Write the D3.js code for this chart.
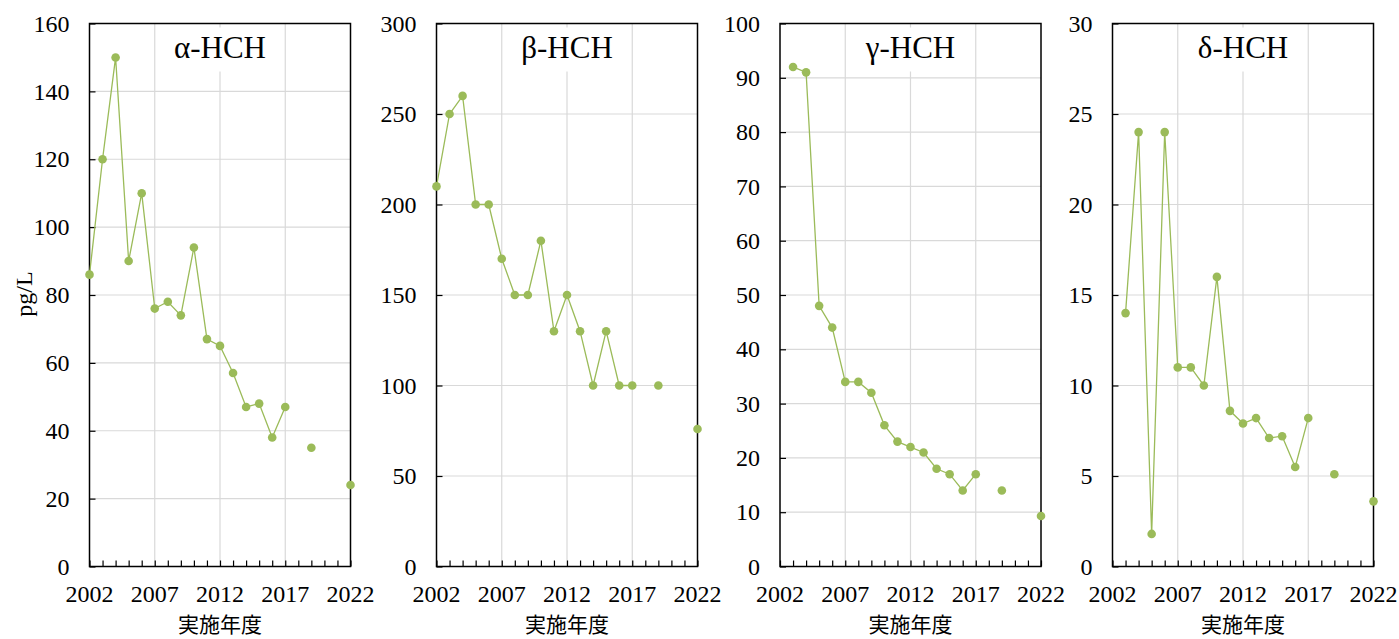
<!DOCTYPE html>
<html>
<head>
<meta charset="utf-8">
<script src="https://cdn.jsdelivr.net/npm/d3@7"></script>
<style>
  body { margin: 0; background: #fff; }
  text { font-family: "Liberation Serif", "Times New Roman", serif; fill: #000; }
  .jp { font-family: "Noto Sans CJK JP", sans-serif; }
</style>
</head>
<body>
<svg id="chart"></svg>
<script>
// survey years (2018, 2020, 2021 not measured)
const years = d3.range(2002, 2023);
const yearTicks = [2002, 2007, 2012, 2017, 2022];

const alphaHCH = [86, 120, 150, 90, 110, 76, 78, 74, 94, 67, 65, 57, 47, 48, 38, 47, null, 35, null, null, 24];
const betaHCH  = [210, 250, 260, 200, 200, 170, 150, 150, 180, 130, 150, 130, 100, 130, 100, 100, null, 100, null, null, 76];
const gammaHCH = [null, 92, 91, 48, 44, 34, 34, 32, 26, 23, 22, 21, 18, 17, 14, 17, null, 14, null, null, 9.3];
const deltaHCH = [null, 14, 24, 1.8, 24, 11, 11, 10, 16, 8.6, 7.9, 8.2, 7.1, 7.2, 5.5, 8.2, null, 5.1, null, null, 3.6];

const titles = ["α-HCH", "β-HCH", "γ-HCH", "δ-HCH"];
const yMax = [160, 300, 100, 30];
const yStep = [20, 50, 10, 5];

const GREEN = "#9bbb59";
const W = 1399, H = 639;

class Panel {
    constructor(g, left, top, width, height) {
        this.g = g.append("g").attr("transform", `translate(${left}, ${top})`);
        this.width = width;
        this.height = height;
    }

    draw(title, values, max, step) {
        const x = d3.scaleLinear().domain([2002, 2022]).range([0, this.width]);
        const y = d3.scaleLinear().domain([0, max]).range([this.height, 0]);
        const yTicks = d3.range(0, max + step / 2, step);

        // grid
        this.g.append("g").selectAll("line.h")
            .data(yTicks.slice(1))
            .join("line")
            .attr("x1", 0).attr("x2", this.width)
            .attr("y1", d => y(d)).attr("y2", d => y(d))
            .attr("stroke", "#d9d9d9").attr("stroke-width", 1.2);
        this.g.append("g").selectAll("line.v")
            .data(yearTicks.slice(1, -1))
            .join("line")
            .attr("x1", d => x(d)).attr("x2", d => x(d))
            .attr("y1", 0).attr("y2", this.height)
            .attr("stroke", "#d9d9d9").attr("stroke-width", 1.2);

        // title box hides the grid behind it
        const t = this.g.append("g").attr("transform", `translate(${this.width / 2}, 0)`);
        t.append("rect")
            .attr("x", -52).attr("y", 4).attr("width", 104).attr("height", 44)
            .attr("fill", "#fff");
        t.append("text")
            .attr("y", 34)
            .attr("text-anchor", "middle")
            .attr("font-size", 31)
            .text(title);

        // frame
        this.g.append("rect")
            .attr("width", this.width).attr("height", this.height)
            .attr("fill", "none").attr("stroke", "#000").attr("stroke-width", 1.5);

        // y axis
        const ya = this.g.append("g")
            .call(d3.axisRight(y).tickValues(yTicks).tickSize(6).tickFormat(d3.format("d")));
        ya.select(".domain").remove();
        ya.selectAll("line").attr("stroke", "#000").attr("stroke-width", 1.2);
        ya.selectAll("text")
            .attr("x", -20).attr("text-anchor", "end")
            .attr("font-size", 24).attr("font-family", null);

        // x axis: minor ticks inward every year, labels every 5
        const xa = this.g.append("g")
            .attr("transform", `translate(0, ${this.height})`)
            .call(d3.axisTop(x).tickValues(years).tickSize(6).tickFormat(""));
        xa.select(".domain").remove();
        xa.selectAll("line").attr("stroke", "#000").attr("stroke-width", 1.2);
        this.g.append("g").selectAll("text")
            .data(yearTicks)
            .join("text")
            .attr("x", d => x(d))
            .attr("y", this.height + 35)
            .attr("text-anchor", "middle")
            .attr("font-size", 24)
            .text(d => d);

        this.g.append("text")
            .attr("class", "jp")
            .attr("x", this.width / 2)
            .attr("y", this.height + 65)
            .attr("text-anchor", "middle")
            .attr("font-size", 21)
            .text("実施年度");

        // series
        const pts = years.map((yr, i) => ({ yr, v: values[i] }));
        const line = d3.line()
            .defined(d => d.v != null)
            .x(d => x(d.yr))
            .y(d => y(d.v));
        this.g.append("path")
            .attr("d", line(pts))
            .attr("fill", "none")
            .attr("stroke", GREEN)
            .attr("stroke-width", 1.3);
        this.g.append("g").selectAll("circle")
            .data(pts.filter(d => d.v != null))
            .join("circle")
            .attr("cx", d => x(d.yr))
            .attr("cy", d => y(d.v))
            .attr("r", 4.3)
            .attr("fill", GREEN);
    }
}

const svg = d3.select("#chart").attr("width", W).attr("height", H);
const lefts = [89.5, 436.5, 780, 1112.5];
const series = [alphaHCH, betaHCH, gammaHCH, deltaHCH];

series.forEach((vals, i) => {
    const p = new Panel(svg, lefts[i], 23.5, 261, 543);
    p.draw(titles[i], vals, yMax[i], yStep[i]);
});

svg.append("text")
    .attr("transform", "translate(32, 294) rotate(-90)")
    .attr("text-anchor", "middle")
    .attr("font-size", 24)
    .text("pg/L");
</script>
</body>
</html>
